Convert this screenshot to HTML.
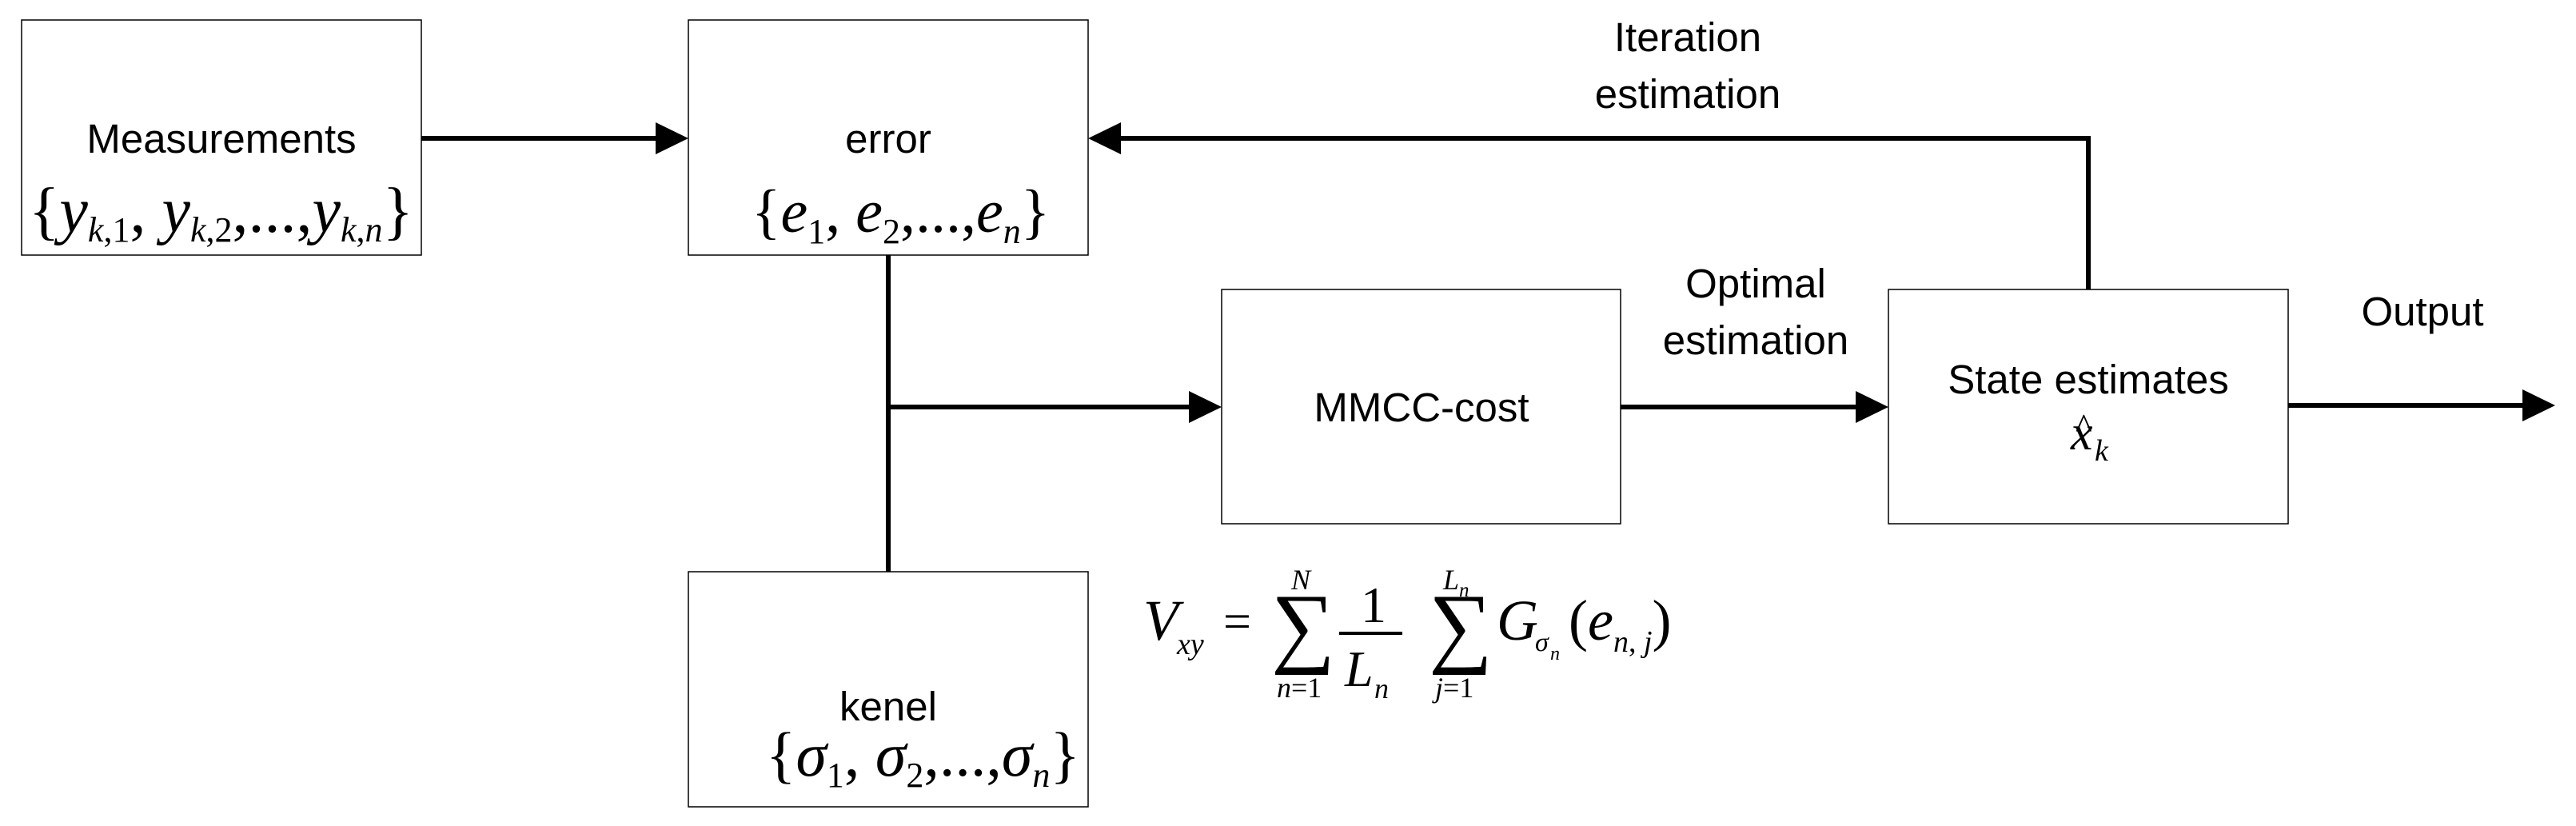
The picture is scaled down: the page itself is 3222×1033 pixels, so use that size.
<!DOCTYPE html>
<html><head><meta charset="utf-8"><style>
html,body{margin:0;padding:0;background:#fff;}
svg{display:block}
.s{font-family:"Liberation Sans",sans-serif;font-size:51px;fill:#000;text-anchor:middle}
.m{font-family:"Liberation Serif",serif;font-style:italic;fill:#000}
.r{font-family:"Liberation Serif",serif;fill:#000}
</style></head><body>
<svg width="3222" height="1033" viewBox="0 0 3222 1033" xmlns="http://www.w3.org/2000/svg">
<g fill="none" stroke="#000" stroke-width="1.5">
<rect x="27" y="25" width="500" height="294"/>
<rect x="861" y="25" width="500" height="294"/>
<rect x="861" y="715" width="500" height="294"/>
<rect x="1528" y="362" width="499" height="293"/>
<rect x="2362" y="362" width="500" height="293"/>
</g>
<g stroke="#000" stroke-width="6" fill="none">
<line x1="527" y1="173" x2="825" y2="173"/>
<line x1="1400" y1="173" x2="2612" y2="173"/>
<line x1="2612" y1="170" x2="2612" y2="362"/>
<line x1="1111" y1="319" x2="1111" y2="715"/>
<line x1="1111" y1="509" x2="1492" y2="509"/>
<line x1="2027" y1="509" x2="2326" y2="509"/>
<line x1="2862" y1="507" x2="3160" y2="507"/>
</g>
<g fill="#000">
<polygon points="861,173 820,153 820,193"/>
<polygon points="1361,173 1402,153 1402,193"/>
<polygon points="1528,509 1487,489 1487,529"/>
<polygon points="2362,509 2321,489 2321,529"/>
<polygon points="3196,507 3155,487 3155,527"/>
</g>
<text class="s" x="277" y="191">Measurements</text>
<text class="s" x="1111" y="191">error</text>
<text class="s" x="1111" y="901">kenel</text>
<text class="s" x="1778" y="527">MMCC-cost</text>
<text class="s" x="2612" y="492">State estimates</text>
<text class="s" x="2111" y="64">Iteration</text>
<text class="s" x="2111" y="135">estimation</text>
<text class="s" x="2196" y="372">Optimal</text>
<text class="s" x="2196" y="443">estimation</text>
<text class="s" x="3030" y="407">Output</text>
<!-- measurements set -->
<text class="r" x="36" y="290" font-size="80">{<tspan class="m">y</tspan><tspan font-size="44" dy="12" class="m">k</tspan><tspan font-size="44">,1</tspan><tspan dy="-12">, </tspan><tspan class="m">y</tspan><tspan font-size="44" dy="12" class="m">k</tspan><tspan font-size="44">,2</tspan><tspan dy="-12">,...,</tspan><tspan class="m">y</tspan><tspan font-size="44" dy="12" class="m">k</tspan><tspan font-size="44">,</tspan><tspan font-size="44" class="m">n</tspan><tspan dy="-12">}</tspan></text>
<!-- error set -->
<text class="r" x="940" y="290" font-size="76">{<tspan class="m">e</tspan><tspan font-size="44" dy="14">1</tspan><tspan dy="-14">, </tspan><tspan class="m">e</tspan><tspan font-size="44" dy="14">2</tspan><tspan dy="-14">,...,</tspan><tspan class="m">e</tspan><tspan font-size="44" dy="14" class="m">n</tspan><tspan dy="-14">}</tspan></text>
<!-- kenel set -->
<text class="r" x="958" y="970" font-size="78">{<tspan class="m">σ</tspan><tspan font-size="44" dy="14">1</tspan><tspan dy="-14">, </tspan><tspan class="m">σ</tspan><tspan font-size="44" dy="14">2</tspan><tspan dy="-14">,...,</tspan><tspan class="m">σ</tspan><tspan font-size="44" dy="14" class="m">n</tspan><tspan dy="-14">}</tspan></text>
<!-- x hat -->
<text class="m" x="2590" y="562" font-size="62">x</text>
<text class="r" x="2596" y="548" font-size="44">^</text>
<text class="m" x="2620" y="576" font-size="38">k</text>
<!-- formula -->
<text class="m" x="1430" y="800" font-size="72">V</text>
<text class="m" x="1472" y="818" font-size="38">xy</text>
<text class="r" x="1530" y="798" font-size="62">=</text>
<text class="r" x="1590" y="820" font-size="112">∑</text>
<text class="m" x="1615" y="737" font-size="36">N</text>
<text class="r" x="1597" y="872" font-size="36"><tspan class="m">n</tspan>=1</text>
<text class="r" x="1702" y="778" font-size="64">1</text>
<line x1="1675" y1="792" x2="1754" y2="792" stroke="#000" stroke-width="4"/>
<text class="m" x="1682" y="858" font-size="64">L</text>
<text class="m" x="1719" y="873" font-size="36">n</text>
<text class="r" x="1787" y="820" font-size="112">∑</text>
<text class="m" x="1805" y="737" font-size="36">L</text>
<text class="m" x="1825" y="746" font-size="25">n</text>
<text class="r" x="1795" y="872" font-size="36"><tspan class="m">j</tspan>=1</text>
<text class="m" x="1872" y="800" font-size="72">G</text>
<text class="m" x="1920" y="814" font-size="34">σ</text>
<text class="m" x="1939" y="825" font-size="24">n</text>
<text class="r" x="1962" y="800" font-size="72">(<tspan class="m">e</tspan><tspan font-size="38" dy="15" class="m">n</tspan><tspan font-size="38">, </tspan><tspan font-size="38" class="m">j</tspan><tspan dy="-15">)</tspan></text>
</svg>
</body></html>
